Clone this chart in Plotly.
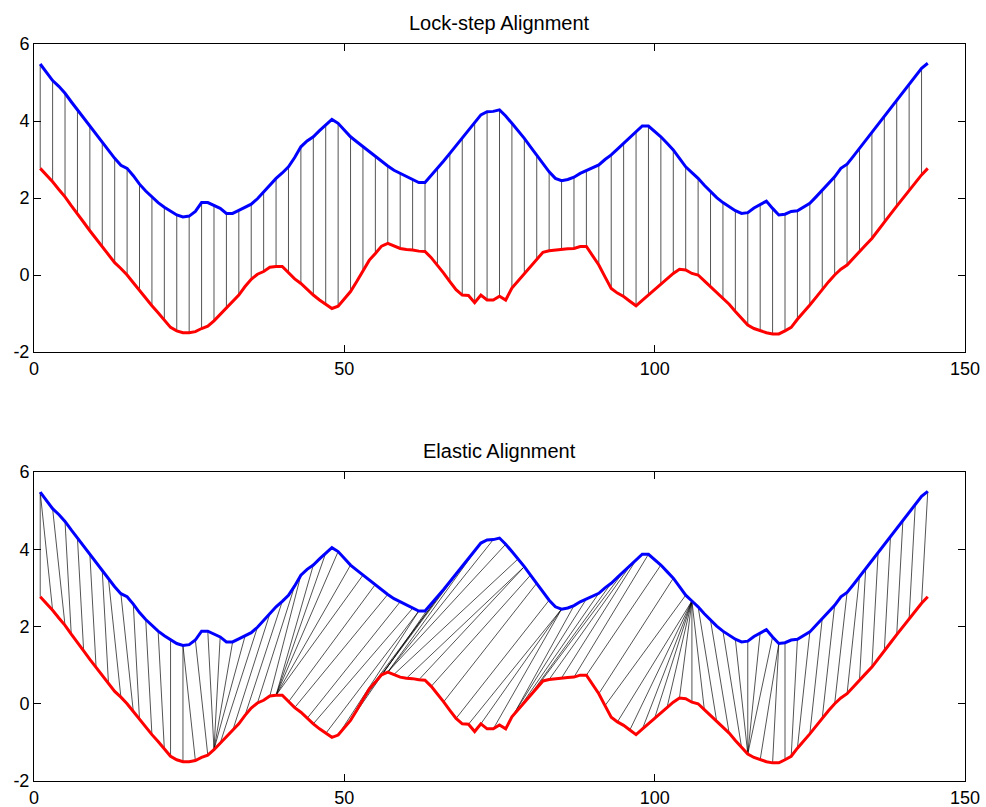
import numpy as np
import plotly.graph_objects as go

# ---------------- data ----------------
idx = list(range(1, 145))

blue = [
    5.48, 5.25, 5.05, 4.90, 4.72, 4.50, 4.29, 4.08, 3.87, 3.65,
    3.44, 3.23, 3.03, 2.85, 2.77, 2.58, 2.36, 2.18, 2.03, 1.88,
    1.76, 1.65, 1.56, 1.51, 1.53, 1.65, 1.88, 1.88, 1.80, 1.73,
    1.60, 1.60, 1.68, 1.75, 1.84, 1.98, 2.16, 2.33, 2.51, 2.65,
    2.81, 3.05, 3.33, 3.48, 3.59, 3.75, 3.90, 4.04, 3.94, 3.76,
    3.59, 3.46, 3.33, 3.20, 3.09, 2.96, 2.83, 2.72, 2.64, 2.56,
    2.47, 2.40, 2.40, 2.58, 2.77, 2.96, 3.16, 3.36, 3.55, 3.77,
    3.98, 4.16, 4.24, 4.25, 4.29, 4.13, 3.94, 3.75, 3.55, 3.33,
    3.12, 2.90, 2.68, 2.51, 2.45, 2.48, 2.54, 2.64, 2.71, 2.78,
    2.86, 3.00, 3.12, 3.27, 3.42, 3.56, 3.72, 3.87, 3.87, 3.74,
    3.59, 3.42, 3.25, 3.03, 2.81, 2.66, 2.51, 2.33, 2.16, 2.01,
    1.88, 1.77, 1.67, 1.60, 1.62, 1.74, 1.84, 1.92, 1.73, 1.56,
    1.58, 1.65, 1.67, 1.76, 1.86, 2.03, 2.21, 2.38, 2.55, 2.77,
    2.88, 3.08, 3.29, 3.50, 3.72, 3.92, 4.13, 4.34, 4.55, 4.76,
    4.98, 5.18, 5.37, 5.50,
]

red = [
    2.77, 2.60, 2.42, 2.22, 2.03, 1.80, 1.60, 1.37, 1.15, 0.95,
    0.74, 0.53, 0.32, 0.17, 0.00, -0.20, -0.41, -0.61, -0.80, -0.98,
    -1.17, -1.36, -1.45, -1.50, -1.50, -1.47, -1.39, -1.33, -1.19, -1.02,
    -0.87, -0.70, -0.52, -0.30, -0.11, 0.02, 0.09, 0.20, 0.22, 0.22,
    0.05, -0.10, -0.22, -0.38, -0.52, -0.65, -0.77, -0.87, -0.81, -0.63,
    -0.43, -0.17, 0.09, 0.38, 0.56, 0.75, 0.82, 0.76, 0.69, 0.66,
    0.65, 0.62, 0.61, 0.45, 0.26, 0.05, -0.17, -0.38, -0.52, -0.53,
    -0.72, -0.52, -0.65, -0.65, -0.55, -0.65, -0.34, -0.15, 0.04, 0.24,
    0.43, 0.59, 0.63, 0.65, 0.67, 0.68, 0.69, 0.74, 0.74, 0.50,
    0.26, -0.05, -0.35, -0.47, -0.56, -0.68, -0.80, -0.66, -0.52, -0.37,
    -0.22, -0.09, 0.04, 0.15, 0.13, 0.04, 0.00, -0.15, -0.30, -0.46,
    -0.61, -0.76, -0.95, -1.13, -1.30, -1.39, -1.45, -1.50, -1.53, -1.53,
    -1.45, -1.36, -1.15, -0.97, -0.78, -0.58, -0.37, -0.18, 0.00, 0.15,
    0.26, 0.44, 0.61, 0.78, 0.95, 1.15, 1.36, 1.58, 1.79, 2.00,
    2.21, 2.41, 2.60, 2.77,
]

titles = ["Lock-step Alignment", "Elastic Alignment"]
x_ticks = [0, 50, 100, 150]
y_ticks = [-2, 0, 2, 4, 6]

# ---------------- alignments ----------------
a = np.array(blue)
b = np.array(red)

# lock-step: every other point, i <-> i
lock_pairs = [(i, i) for i in range(0, len(a), 2)]

# elastic: dynamic time warping on z-normalised series
za = (a - a.mean()) / a.std()
zb = (b - b.mean()) / b.std()
n, m = len(za), len(zb)
cost = np.abs(za[:, None] - zb[None, :])
D = np.full((n + 1, m + 1), np.inf)
D[0, 0] = 0.0
for i in range(1, n + 1):
    for j in range(1, m + 1):
        D[i, j] = cost[i - 1, j - 1] + min(D[i - 1, j - 1], D[i - 1, j], D[i, j - 1])
i, j = n, m
path = [(i - 1, j - 1)]
while i > 1 or j > 1:
    opts = [(D[i - 1, j - 1], i - 1, j - 1), (D[i - 1, j], i - 1, j), (D[i, j - 1], i, j - 1)]
    _, i, j = min(opts, key=lambda t: t[0])
    path.append((i - 1, j - 1))
path = path[::-1]
elastic_pairs = path[::2]


def connector(pairs):
    xs, ys = [], []
    for p, q in pairs:
        xs += [idx[p], idx[q], None]
        ys += [blue[p], red[q], None]
    return xs, ys


# ---------------- figure ----------------
FONT = "Liberation Sans, Arial, Helvetica, sans-serif"
fig = go.Figure()

for k, pairs in enumerate([lock_pairs, elastic_pairs]):
    xa = "x" if k == 0 else "x2"
    ya = "y" if k == 0 else "y2"
    cx, cy = connector(pairs)
    fig.add_trace(go.Scatter(x=cx, y=cy, mode="lines", xaxis=xa, yaxis=ya,
                             line=dict(color="rgba(0,0,0,0.85)", width=0.8),
                             hoverinfo="skip", showlegend=False))
    fig.add_trace(go.Scatter(x=idx, y=blue, mode="lines", xaxis=xa, yaxis=ya,
                             line=dict(color="#0000FF", width=3), showlegend=False))
    fig.add_trace(go.Scatter(x=idx, y=red, mode="lines", xaxis=xa, yaxis=ya,
                             line=dict(color="#FF0000", width=3), showlegend=False))

axis_common = dict(showgrid=False, zeroline=False, showline=True, linecolor="black",
                   linewidth=1, mirror="ticks", ticks="inside", ticklen=7,
                   tickcolor="black", tickwidth=1, automargin=False,
                   tickfont=dict(family=FONT, size=18, color="black"))

x_text = [str(v) for v in x_ticks]
y_text = [str(v) for v in y_ticks]

total_h = 807 - 44 - 26
top_lo = (781 - 352) / total_h
bot_hi = (781 - 472) / total_h

fig.update_layout(
    width=986, height=807,
    margin=dict(l=34, r=21, t=44, b=26),
    paper_bgcolor="white", plot_bgcolor="white",
    xaxis=dict(range=[0, 150], tickvals=x_ticks, ticktext=x_text, domain=[0, 1], anchor="y", **axis_common),
    yaxis=dict(range=[-2, 6], tickvals=y_ticks, ticktext=y_text, domain=[top_lo, 1], anchor="x", **axis_common),
    xaxis2=dict(range=[0, 150], tickvals=x_ticks, ticktext=x_text, domain=[0, 1], anchor="y2", **axis_common),
    yaxis2=dict(range=[-2, 6], tickvals=y_ticks, ticktext=y_text, domain=[0, bot_hi], anchor="x2", **axis_common),
    annotations=[
        dict(text=titles[0], xref="x domain", yref="y domain", x=0.5, y=1,
             yanchor="middle", yshift=21, showarrow=False,
             font=dict(family=FONT, size=20, color="black")),
        dict(text=titles[1], xref="x2 domain", yref="y2 domain", x=0.5, y=1,
             yanchor="middle", yshift=21, showarrow=False,
             font=dict(family=FONT, size=20, color="black")),
    ],
)

fig.write_html("out.html")
